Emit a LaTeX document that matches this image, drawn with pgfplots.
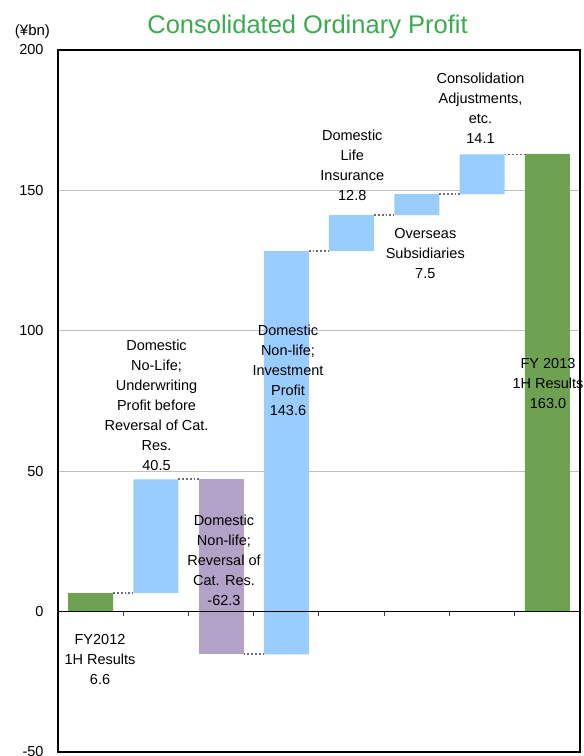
\documentclass[border=0pt]{standalone}
\usepackage{pgfplots}
\usepackage{pgfplotstable}
\pgfplotsset{compat=1.18}
\usepackage{fontspec}
\setmainfont{Liberation Sans}
\definecolor{bargreen}{RGB}{111,161,82}
\definecolor{barblue}{RGB}{153,204,255}
\definecolor{barpurple}{RGB}{178,162,199}
\definecolor{titlegreen}{RGB}{60,170,80}
\definecolor{connector}{RGB}{110,110,110}
\tikzset{lbl/.style={font=\fontsize{14.5}{20}\selectfont, align=center, inner sep=0pt, anchor=north},
  conn/.style={connector, line width=1.8pt, dash pattern=on 1.8pt off 2pt}}

\pgfplotstableread{
x base green blue purple
0 0 6.6 0 0
1 6.6 0 40.5 0
2 -15.2 0 0 62.3
3 -15.2 0 143.6 0
4 128.4 0 12.8 0
5 141.2 0 7.5 0
6 148.7 0 14.1 0
7 0 163.0 0 0
}\bars

\begin{document}
\begin{tikzpicture}
\useasboundingbox (-58pt,-4pt) rectangle (526pt,752pt);
\pgfplotsset{common/.style={
  at={(0,0)}, anchor=south west, scale only axis,
  width=522pt, height=702pt,
  xmin=-0.5, xmax=7.5, ymin=-50, ymax=200}}
\begin{axis}[common,
  ybar stacked, stack negative=on previous, bar width=0.69,
  ytick={-50,0,...,200}, xtick=\empty,
  ymajorgrids, grid style={draw=black!25, line width=0.8pt},
  major tick length=0pt,
  axis line style={line width=1.2pt},
  tick label style={font=\fontsize{14.5}{16}\selectfont},
  yticklabel style={xshift=-11pt},
  /pgf/number format/assume math mode=true]
\addplot[draw=none, fill=none] table[x=x, y=base] {\bars};
\addplot[draw=none, fill=bargreen] table[x=x, y=green] {\bars};
\addplot[draw=none, fill=barblue] table[x=x, y=blue] {\bars};
\addplot[draw=none, fill=barpurple] table[x=x, y=purple] {\bars};
\end{axis}
\begin{axis}[common,
  axis x line=middle, axis y line=none,
  x axis line style={-, line width=1.3pt},
  xtick={0.5,1.5,...,6.5}, xticklabels=\empty,
  tick align=outside, major tick length=4pt,
  x tick style={line width=1pt, black!75},
  clip=false]
\addplot[conn] coordinates {(0.345,6.6) (0.655,6.6)};
\addplot[conn] coordinates {(1.345,47.1) (1.655,47.1)};
\addplot[conn] coordinates {(2.345,-15.2) (2.655,-15.2)};
\addplot[conn] coordinates {(3.345,128.4) (3.655,128.4)};
\addplot[conn] coordinates {(4.345,141.2) (4.655,141.2)};
\addplot[conn] coordinates {(5.345,148.7) (5.655,148.7)};
\addplot[conn] coordinates {(6.345,162.8) (6.655,162.8)};
\node[lbl] at (axis cs:0.144,-8.2) {FY2012\\1H Results\\6.6};
\node[lbl] at (axis cs:1.01,96.9) {Domestic\\No-Life;\\Underwriting\\Profit before\\Reversal of Cat.\\Res.\\40.5};
\node[lbl] at (axis cs:2.044,34.5) {Domestic\\Non-life;\\Reversal of\\Cat. Res.\\-62.3};
\node[lbl] at (axis cs:3.025,102.2) {Domestic\\Non-life;\\Investment\\Profit\\143.6};
\node[lbl] at (axis cs:4.01,171.6) {Domestic\\Life\\Insurance\\12.8};
\node[lbl] at (axis cs:5.129,136.7) {Overseas\\Subsidiaries\\7.5};
\node[lbl] at (axis cs:5.975,191.9) {Consolidation\\Adjustments,\\etc.\\14.1};
\node[lbl] at (axis cs:7.01,90.4) {FY 2013\\1H Results\\163.0};
\node[font=\fontsize{25.5}{28}\selectfont, text=titlegreen, anchor=base, inner sep=0pt] at (rel axis cs:0.478,1.0242) {Consolidated Ordinary Profit};
\node[font=\fontsize{15}{17}\selectfont, inner sep=0pt] at (rel axis cs:-0.0489,1.0256) {(¥bn)};
\end{axis}
\end{tikzpicture}
\end{document}
